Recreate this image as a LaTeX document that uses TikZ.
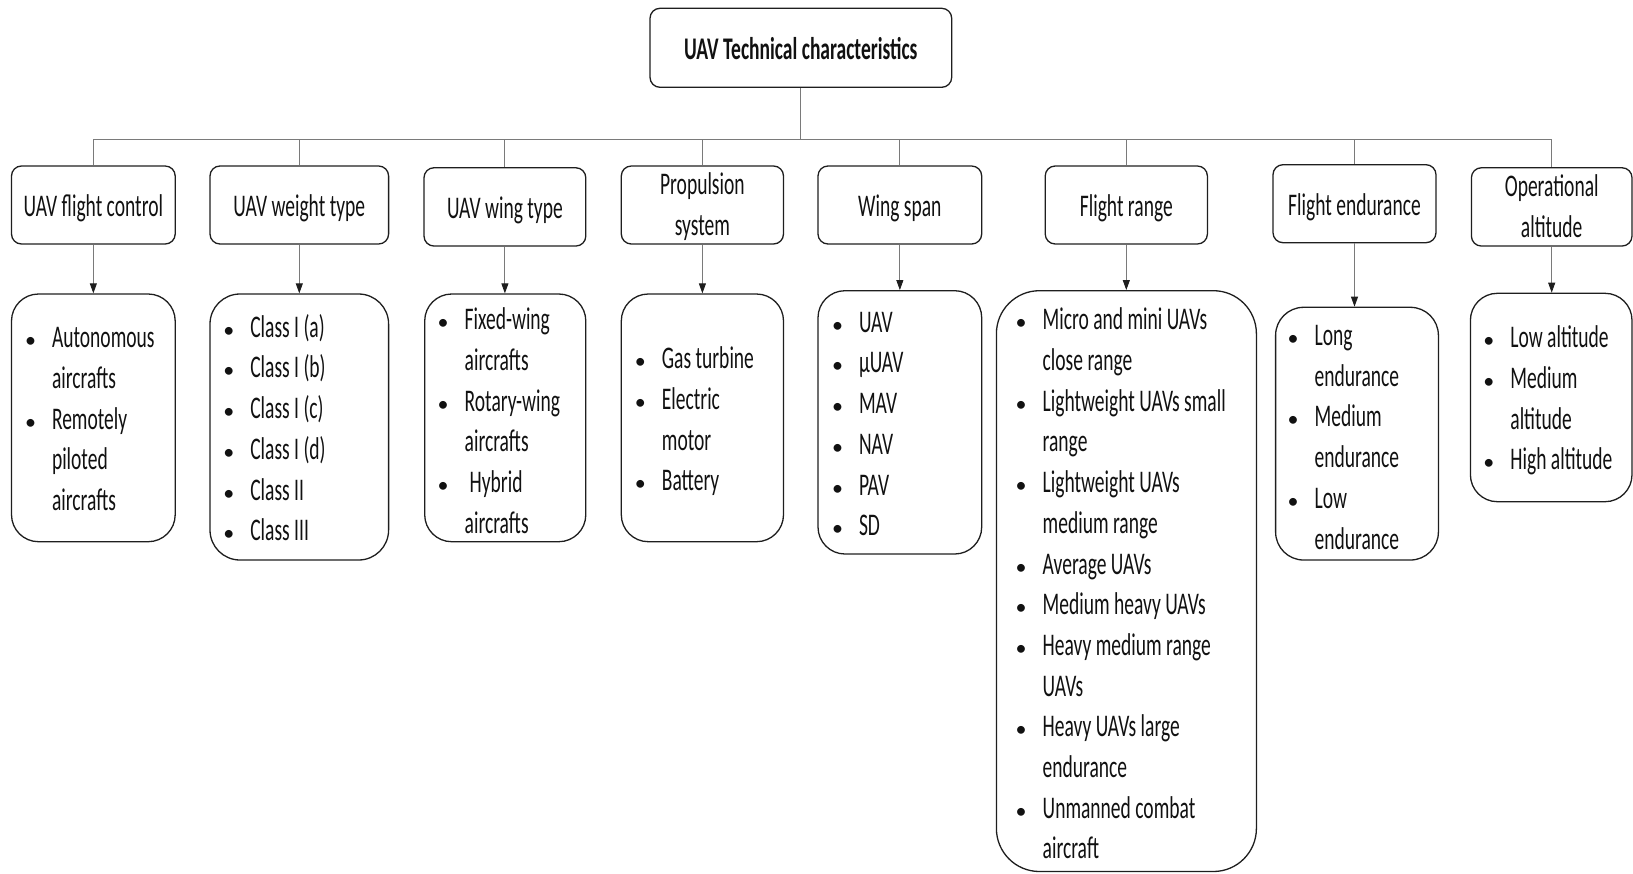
\documentclass[tikz,border=0pt]{standalone}
\usepackage{fontspec}
\setmainfont{Carlito}[FakeStretch=0.62]
\newfontfamily\bulletfont{Carlito}
\usetikzlibrary{arrows.meta}
\definecolor{txt}{HTML}{111111}
\definecolor{edge}{HTML}{1E1E1E}
\definecolor{wire}{HTML}{7A7A7A}
\newcommand{\bu}{\makebox[21.5pt][l]{\makebox[0pt][c]{\bulletfont\fontsize{22}{22}\selectfont •}}}
\newcommand{\nb}{\hspace*{21.5pt}}
\newcommand{\lst}[1]{\begin{tabular}{@{}l@{}}#1\end{tabular}}
\tikzset{
  box/.style={draw=edge, line width=1.3pt, rounded corners=10pt, inner sep=0pt, text=txt},
  one/.style={text height=30pt, text depth=6.6pt},
  two/.style={align=center, text depth=2pt},
  lbox/.style={draw=edge, line width=1.3pt, inner sep=0pt},
  conn/.style={draw=wire, line width=0.9pt},
  arr/.style={conn, -{Triangle[length=10pt,width=7pt,color=edge,fill=edge]}},
  lst/.style={anchor=north west, inner sep=0pt, text=txt},
}
\begin{document}
\begin{tikzpicture}[x=1pt, y=-1pt, font=\fontsize{31.5}{40.7}\selectfont]
\useasboundingbox (0,0) rectangle (1633,873);
% top
\node[box, one, minimum width=301.7pt, minimum height=79pt, font=\fontsize{31.5}{40.7}\selectfont\bfseries] (top) at (800.85,47.8) {UAV Technical characteristics};
\coordinate (bus) at (0,139.5);
% level 2
\node[box, one, minimum width=163.7pt, minimum height=78pt] (h1) at (93.35,205) {UAV flight control};
\node[box, one, minimum width=178.6pt, minimum height=78pt] (h2) at (299.3,205) {UAV weight type};
\node[box, one, minimum width=161.8pt, minimum height=78.3pt] (h3) at (504.9,206.9) {UAV wing type};
\node[box, two, minimum width=162.2pt, minimum height=78pt] (h4) at (702.4,205) {Propulsion\\system};
\node[box, one, minimum width=163.7pt, minimum height=78pt] (h5) at (899.85,205) {Wing span};
\node[box, one, minimum width=162.2pt, minimum height=78pt] (h6) at (1126.3,205) {Flight range};
\node[box, one, minimum width=163pt, minimum height=78pt] (h7) at (1354.5,203.7) {Flight endurance};
\node[box, two, minimum width=160.6pt, minimum height=78.3pt] (h8) at (1551.7,206.9) {Operational\\altitude};
% level 3 boxes
\node[lbox, rounded corners=27pt, minimum width=163.7pt, minimum height=247.7pt] (l1) at (93.35,417.85) {};
\node[lbox, rounded corners=30pt, minimum width=178.6pt, minimum height=266pt] (l2) at (299.3,427) {};
\node[lbox, rounded corners=27pt, minimum width=161.1pt, minimum height=247.7pt] (l3) at (505.25,417.85) {};
\node[lbox, rounded corners=27pt, minimum width=162.2pt, minimum height=247.7pt] (l4) at (702.4,417.85) {};
\node[lbox, rounded corners=27pt, minimum width=163.7pt, minimum height=263.3pt] (l5) at (899.85,422.35) {};
\node[lbox, rounded corners=43pt, minimum width=260pt, minimum height=580.8pt] (l6) at (1126.4,581.1) {};
\node[lbox, rounded corners=28pt, minimum width=162.8pt, minimum height=252.7pt] (l7) at (1357,433.65) {};
\node[lbox, rounded corners=27pt, minimum width=161.6pt, minimum height=208.4pt] (l8) at (1551.2,397.5) {};
% lists
\node[lst] (t1) at (30.3,319.2) {\lst{\bu Autonomous\\ \nb aircrafts\\ \bu Remotely\\ \nb piloted\\ \nb aircrafts}};
\node[lst] (t2) at (228.6,308.6) {\lst{\bu Class I (a)\\ \bu Class I (b)\\ \bu Class I (c)\\ \bu Class I (d)\\ \bu Class II\\ \bu Class III}};
\node[lst] (t3) at (443,301.2) {\lst{\bu Fixed-wing\\ \nb aircrafts\\ \bu Rotary-wing\\ \nb aircrafts\\ \bu\hspace{5pt}Hybrid\\ \nb aircrafts}};
\node[lst] (t4) at (640.2,340.2) {\lst{\bu Gas turbine\\ \bu Electric\\ \nb motor\\ \bu Battery}};
\node[lst] (t5) at (837.3,303.6) {\lst{\bu UAV\\ \bu µUAV\\ \bu MAV\\ \bu NAV\\ \bu PAV\\ \bu SD}};
\node[lst] (t6) at (1021,301.2) {\lst{\bu Micro and mini UAVs\\ \nb close range\\ \bu Lightweight UAVs small\\ \nb range\\ \bu Lightweight UAVs\\ \nb medium range\\ \bu Average UAVs\\ \bu Medium heavy UAVs\\ \bu Heavy medium range\\ \nb UAVs\\ \bu Heavy UAVs large\\ \nb endurance\\ \bu Unmanned combat\\ \nb aircraft}};
\node[lst] (t7) at (1293,316.9) {\lst{\bu Long\\ \nb endurance\\ \bu Medium\\ \nb endurance\\ \bu Low\\ \nb endurance}};
\node[lst] (t8) at (1488.7,319.2) {\lst{\bu Low altitude\\ \bu Medium\\ \nb altitude\\ \bu High altitude}};
% connectors
\draw[conn] (top.south) -- (top.south |- bus);
\draw[conn] (h1.north |- bus) -- (h8.north |- bus);
\foreach \i in {1,...,8} {
  \draw[conn] (h\i.north |- bus) -- (h\i.north);
  \draw[arr] (h\i.south) -- (h\i.south |- l\i.north);
}
\end{tikzpicture}
\end{document}
